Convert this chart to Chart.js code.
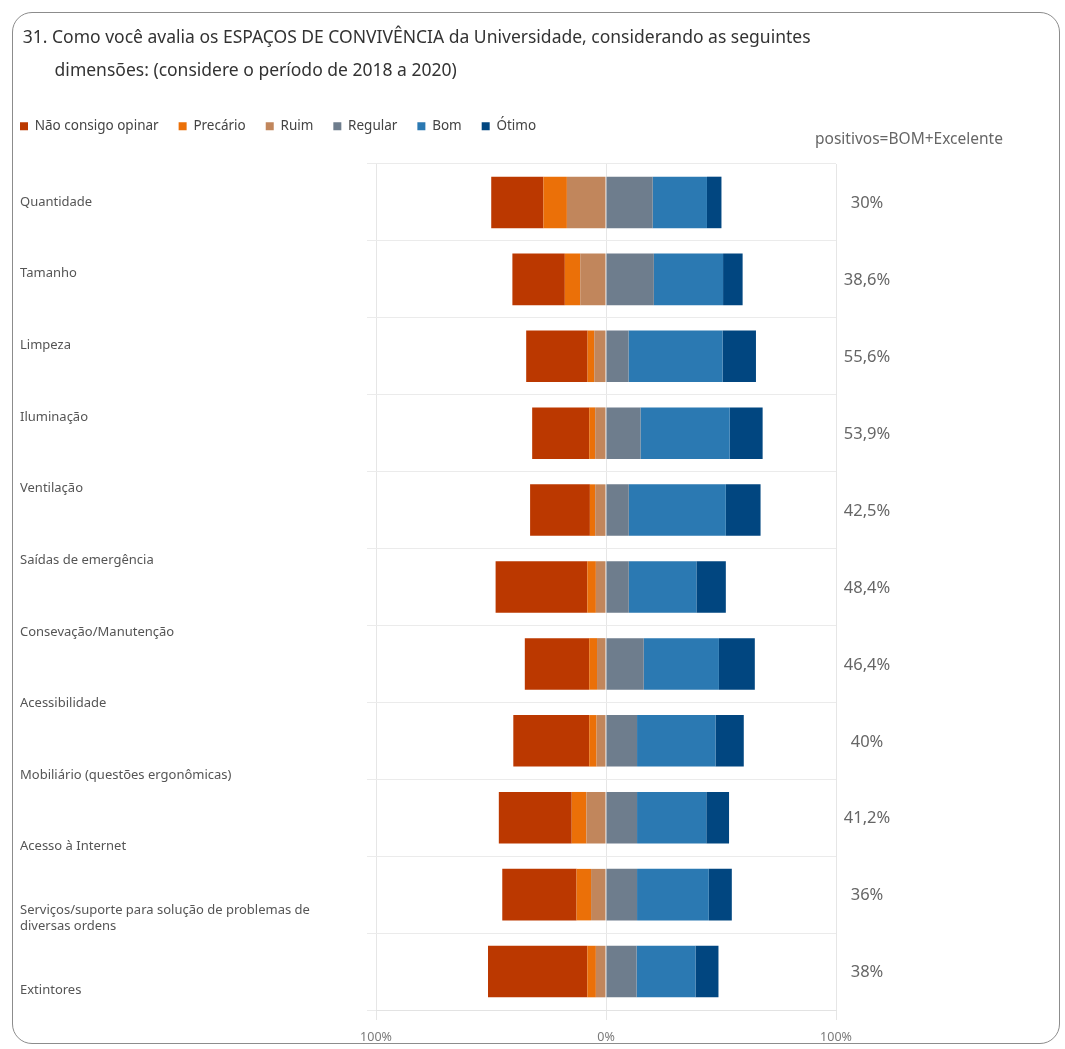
<!DOCTYPE html>
<html>
<head>
<meta charset="utf-8">
<script src="https://cdn.jsdelivr.net/npm/chart.js@4"></script>
<style>
  html, body { margin: 0; padding: 0; background: #fff; }
  #wrap { position: relative; width: 1065px; height: 1049px; overflow: hidden; }
  #frame {
    position: absolute; left: 12px; top: 12px; width: 1048px; height: 1032px;
    border: 1.5px solid #8c8c8c; border-radius: 20px; box-sizing: border-box;
  }
  #c { position: absolute; left: 0; top: 0; }
</style>
</head>
<body>
<div id="wrap">
  <div id="frame"></div>
  <canvas id="c" width="1065" height="1049"></canvas>
</div>
<script>
// labels shown on the left (12 of them, as in the original)
const categories = [
    'Quantidade', 'Tamanho', 'Limpeza', 'Iluminação', 'Ventilação',
    'Saídas de emergência', 'Consevação/Manutenção', 'Acessibilidade',
    'Mobiliário (questões ergonômicas)', 'Acesso à Internet',
    ['Serviços/suporte para solução de problemas de', 'diversas ordens'],
    'Extintores'
];
// one bar row per entry (11 bars drawn)
const rows = ['r1', 'r2', 'r3', 'r4', 'r5', 'r6', 'r7', 'r8', 'r9', 'r10', 'r11'];

// percentages
const naoOpinar = [22.7, 22.8, 26.7, 24.8, 26.0, 39.9, 28.0, 33.0, 31.7, 32.3, 43.2];
const precario  = [10.2, 6.7, 2.9, 2.6, 2.3, 3.7, 3.4, 3.2, 6.4, 6.3, 3.7];
const ruim      = [17.0, 11.2, 5.1, 4.7, 4.7, 4.4, 3.9, 4.1, 8.5, 6.5, 4.4];
const regular   = [20.3, 20.8, 9.8, 15.0, 9.9, 9.9, 16.4, 13.5, 13.5, 13.5, 13.3];
const bom       = [23.6, 30.1, 40.9, 38.8, 42.2, 29.4, 32.7, 34.1, 30.1, 31.2, 25.6];
const otimo     = [6.3, 8.5, 14.5, 14.3, 15.1, 12.8, 15.6, 12.3, 9.9, 10.0, 10.0];

// right-hand column
const positivos = ['30%', '38,6%', '55,6%', '53,9%', '42,5%', '48,4%', '46,4%', '40%', '41,2%', '36%', '38%'];

const xTicks = [-100, 0, 100];

const FONT = '"Noto Sans", "Open Sans", sans-serif';
const PLOT_LEFT = 376;
// range of the label axis, so the labels keep the spacing of the original
const LABEL_MIN = -0.531;
const LABEL_MAX = 11.279;

// draws the "positivos" header and the percentages to the right of the bars
const sidePlugin = {
    id: 'side',
    afterDraw(chart) {
        const ctx = chart.ctx;
        const y = chart.scales.y;
        const area = chart.chartArea;
        ctx.save();
        ctx.fillStyle = '#666';
        ctx.font = '15.5px ' + FONT;
        ctx.textAlign = 'left';
        ctx.textBaseline = 'middle';
        ctx.fillText('positivos=BOM+Excelente', 815, 140);
        ctx.font = '16.5px ' + FONT;
        ctx.textAlign = 'center';
        positivos.forEach((txt, i) => {
            ctx.fillText(txt, area.right + 31, y.getPixelForValue(i) + 1);
        });
        ctx.restore();
    }
};

function negate(arr) {
    return arr.map(v => -v);
}

// empty axis used only to reserve space
function spacer(position, weight, size) {
    return {
        position: position,
        weight: weight,
        grid: { display: false },
        border: { display: false },
        ticks: { display: false },
        afterFit: (s) => {
            if (position === 'left') { s.width = size; } else { s.height = size; }
        }
    };
}

new Chart(document.getElementById('c'), {
    type: 'bar',
    data: {
        labels: rows,
        datasets: [
            { label: 'Não consigo opinar', data: negate(naoOpinar), backgroundColor: '#BB3800', order: 2 },
            { label: 'Precário', data: negate(precario), backgroundColor: '#EB7008', order: 1 },
            { label: 'Ruim', data: negate(ruim), backgroundColor: '#C1865C', order: 0 },
            { label: 'Regular', data: regular, backgroundColor: '#6E7D8D', order: 3 },
            { label: 'Bom', data: bom, backgroundColor: '#2B79B2', order: 4 },
            { label: 'Ótimo', data: otimo, backgroundColor: '#014680', order: 5 }
        ]
    },
    options: {
        indexAxis: 'y',
        responsive: false,
        animation: false,
        datasets: {
            bar: { categoryPercentage: 1, barPercentage: 0.67, borderWidth: 0 }
        },
        layout: { padding: { left: 0, right: 229, top: 6, bottom: 2 } },
        scales: {
            x: {
                stacked: true,
                min: -100,
                max: 100,
                afterBuildTicks: (s) => { s.ticks = xTicks.map(v => ({ value: v })); },
                grid: { color: '#E6E6E6', tickLength: 10 },
                border: { color: '#E3E3E3' },
                ticks: {
                    color: '#7a7a7a',
                    font: { family: FONT, size: 12.5 },
                    padding: 10,
                    callback: (v) => Math.abs(v) + '%'
                },
                afterFit: (s) => { s.height = 37; }
            },
            y: {
                stacked: true,
                weight: 0,
                grid: { color: '#EBEBEB', drawTicks: true, tickLength: 9 },
                border: { display: false },
                ticks: { display: false },
                afterFit: (s) => { s.width = 9; }
            },
            // left-hand labels, on their own spacing as in the original
            yl: {
                type: 'linear',
                position: 'left',
                weight: 1,
                reverse: true,
                offset: false,
                bounds: 'data',
                min: LABEL_MIN,
                max: LABEL_MAX,
                afterBuildTicks: (s) => {
                    s.ticks = categories.map((c, i) => ({ value: i }));
                },
                grid: { display: false },
                border: { display: false },
                ticks: {
                    crossAlign: 'far',
                    color: '#555',
                    font: { family: FONT, size: 13 },
                    padding: 0,
                    callback: (v) => categories[v]
                },
                afterFit: (s) => { s.width = PLOT_LEFT - 20 - 9; }
            },
            gapL: spacer('left', 2, 20),
            gapT: spacer('top', 0, 21)
        },
        plugins: {
            title: {
                display: true,
                align: 'start',
                text: [
                    '     31. Como você avalia os ESPAÇOS DE CONVIVÊNCIA da Universidade, considerando as seguintes',
                    '            dimensões: (considere o período de 2018 a 2020)'
                ],
                color: '#333',
                font: { family: FONT, size: 17.5, weight: 'normal', lineHeight: 1.9 },
                padding: { top: 15, bottom: 12 }
            },
            legend: {
                position: 'top',
                align: 'start',
                labels: {
                    boxWidth: 8,
                    boxHeight: 8,
                    padding: 20,
                    color: '#444',
                    font: { family: FONT, size: 13.5 },
                    sort: (a, b) => a.datasetIndex - b.datasetIndex
                }
            },
            tooltip: { enabled: false }
        }
    },
    plugins: [sidePlugin]
});
</script>
</body>
</html>
